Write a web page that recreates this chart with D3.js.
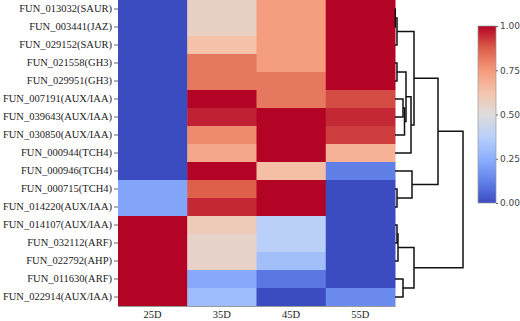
<!DOCTYPE html>
<html>
<head>
<meta charset="utf-8">
<script src="https://cdn.jsdelivr.net/npm/d3@7"></script>
<style>
  body { margin: 0; background: #fff; }
  .rows text, .cols text { font-family: "Liberation Serif", "Times New Roman", serif; font-size: 10.5px; fill: #222; }
  .cbar text { font-family: "DejaVu Sans", Verdana, sans-serif; font-size: 9px; fill: #444; }
</style>
</head>
<body>
<div id="chart"></div>
<script>
/* Clustered heatmap of gene expression (25D..55D) with row dendrogram. */

const width = 520, height = 321,
    margin = ({ top: 0, left: 118, right: 125, bottom: 15 });

// rows, top to bottom (dendrogram leaf order)
const genes = ["FUN_013032(SAUR)", "FUN_003441(JAZ)", "FUN_029152(SAUR)", "FUN_021558(GH3)",
  "FUN_029951(GH3)", "FUN_007191(AUX/IAA)", "FUN_039643(AUX/IAA)", "FUN_030850(AUX/IAA)",
  "FUN_000944(TCH4)", "FUN_000946(TCH4)", "FUN_000715(TCH4)", "FUN_014220(AUX/IAA)",
  "FUN_014107(AUX/IAA)", "FUN_032112(ARF)", "FUN_022792(AHP)", "FUN_011630(ARF)", "FUN_022914(AUX/IAA)"];

const stages = ["25D", "35D", "45D", "55D"];

// scaled expression per stage, one value per gene
const d25 = [0, 0, 0, 0, 0, 0, 0, 0, 0, 0, 0.22, 0.22, 1, 1, 1, 1, 1];
const d35 = [0.56, 0.56, 0.63, 0.82, 0.82, 1, 0.96, 0.78, 0.71, 1, 0.87, 0.95, 0.59, 0.55, 0.55, 0.23, 0.3];
const d45 = [0.74, 0.74, 0.74, 0.74, 0.82, 0.82, 1, 1, 1, 0.64, 1, 1, 0.38, 0.38, 0.31, 0.1, 0];
const d55 = [1, 1, 1, 1, 1, 0.9, 0.95, 0.92, 0.68, 0.12, 0, 0, 0, 0, 0, 0, 0.15];

// linkage: [child a, child b, distance]; ids >= 17 are earlier merges
const linkage = [
  [0, 1, 0.3], [17, 2, 2], [3, 4, 2], [5, 6, 8], [20, 7, 9.5], [19, 21, 11],
  [22, 8, 16], [18, 23, 19], [10, 11, 2], [9, 25, 17], [24, 26, 43],
  [12, 13, 2], [28, 14, 3], [15, 16, 8], [29, 30, 19], [27, 31, 68]
];

const cbTicks = [0, 0.25, 0.5, 0.75, 1];

// coolwarm
const cwStops = [0, 0.125, 0.25, 0.375, 0.5, 0.625, 0.75, 0.875, 1];
const cwColors = ["#3b4cc0", "#6282ea", "#8db0fe", "#b9d0f9", "#dddcdc", "#f5c4ac", "#f49a7b", "#dc5d4a", "#b40426"];
const color = d3.scaleLinear().domain(cwStops).range(cwColors).clamp(true);

const svg = d3.select("#chart")
  .append("svg")
  .attr("width", width)
  .attr("height", height);

const series = [d25, d35, d45, d55];
const cells = [];
genes.forEach((g, i) => stages.forEach((s, j) => cells.push({ gene: g, stage: s, v: series[j][i] })));

let x = d3.scaleBand()
  .domain(stages)
  .range([margin.left, width - margin.right]);

let y = d3.scaleBand()
  .domain(genes)
  .range([margin.top, height - margin.bottom]);

svg.append("g")
  .selectAll("rect")
  .data(cells)
  .join("rect")
  .attr("x", d => x(d.stage))
  .attr("y", d => y(d.gene))
  .attr("width", x.bandwidth() + 0.5)
  .attr("height", y.bandwidth() + 0.5)
  .attr("fill", d => color(d.v));

svg.append("g")
  .attr("class", "rows")
  .attr("transform", `translate(${margin.left},0)`)
  .call(d3.axisLeft(y).tickSize(4).tickPadding(2))
  .call(g => g.select(".domain").remove())
  .call(g => g.selectAll("line").attr("stroke", "#666"));

svg.append("g")
  .attr("class", "cols")
  .attr("transform", `translate(0,${height - margin.bottom})`)
  .call(d3.axisBottom(x).tickSize(0).tickPadding(5))
  .call(g => g.select(".domain").attr("stroke", "#999"));

// dendrogram
let h = d3.scaleLinear()
  .domain([0, d3.max(linkage, d => d[2])])
  .range([width - margin.right, width - margin.right + 68]);

const nodes = genes.map(g => ({ y: y(g) + y.bandwidth() / 2, d: 0 }));
const dendro = svg.append("g")
  .attr("fill", "none")
  .attr("stroke", "#111")
  .attr("stroke-width", 1.5);

for (let [a, b, dist] of linkage) {
  let na = nodes[a], nb = nodes[b];
  dendro.append("path")
    .attr("d", `M${h(na.d)},${na.y}H${h(dist)}V${nb.y}H${h(nb.d)}`);
  nodes.push({ y: (na.y + nb.y) / 2, d: dist });
}

// colorbar
const cb = ({ x: 478, w: 18, top: 26, bottom: 203 });

const grad = svg.append("defs").append("linearGradient")
  .attr("id", "cw")
  .attr("x1", 0).attr("y1", 1).attr("x2", 0).attr("y2", 0);
grad.selectAll("stop")
  .data(cwStops)
  .join("stop")
  .attr("offset", d => d)
  .attr("stop-color", d => color(d));

svg.append("rect")
  .attr("x", cb.x)
  .attr("y", cb.top)
  .attr("width", cb.w)
  .attr("height", cb.bottom - cb.top)
  .attr("fill", "url(#cw)")
  .attr("stroke", "#999")
  .attr("stroke-width", 0.7);

let yc = d3.scaleLinear().domain([0, 1]).range([cb.bottom, cb.top]);

svg.append("g")
  .attr("class", "cbar")
  .attr("transform", `translate(${cb.x + cb.w},0)`)
  .call(d3.axisRight(yc).tickValues(cbTicks).tickFormat(d3.format(".2f")).tickSize(2).tickPadding(2))
  .call(g => g.select(".domain").remove())
  .call(g => g.selectAll("line").attr("stroke", "#666"));
</script>
</body>
</html>
